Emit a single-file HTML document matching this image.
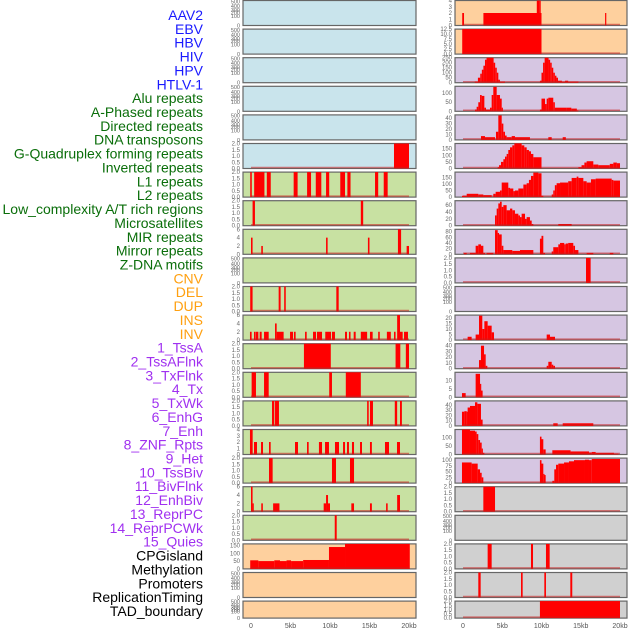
<!DOCTYPE html>
<html><head><meta charset="utf-8"><style>
html,body{margin:0;padding:0;background:#fff;}
#wrap{position:relative;width:630px;height:630px;overflow:hidden;}
svg{position:absolute;left:0;top:0;}
</style></head><body>
<div id="wrap">
<svg id="chart" width="630" height="630" viewBox="0 0 630 630" font-family="Liberation Sans, sans-serif"></svg>
</div>
<script>
// ---------- data ----------
const trackLabels = ["AAV2","EBV","HBV","HIV","HPV","HTLV-1","Alu repeats","A-Phased repeats","Directed repeats","DNA transposons","G-Quadruplex forming repeats","Inverted repeats","L1 repeats","L2 repeats","Low_complexity A/T rich regions","Microsatellites","MIR repeats","Mirror repeats","Z-DNA motifs","CNV","DEL","DUP","INS","INV","1_TssA","2_TssAFlnk","3_TxFlnk","4_Tx","5_TxWk","6_EnhG","7_Enh","8_ZNF_Rpts","9_Het","10_TssBiv","11_BivFlnk","12_EnhBiv","13_ReprPC","14_ReprPCWk","15_Quies","CPGisland","Methylation","Promoters","ReplicationTiming","TAD_boundary"];
const labelGroups = [0,0,0,0,0,0,1,1,1,1,1,1,1,1,1,1,1,1,1,2,2,2,2,2,3,3,3,3,3,3,3,3,3,3,3,3,3,3,3,4,4,4,4,4];
const xTickValues = [0,5,10,15,20];
const xTickLabels = ["0","5kb","10kb","15kb","20kb"];

const T2 = ["0.0","0.5","1.0","1.5","2.0"], T2v=[0,0.5,1,1.5,2];
const T6 = ["0","2","4","6"], T6v=[0,2,4,6];
const T4 = ["0","1","2","3","4"], T4v=[0,1,2,3,4];

// middle column bars: [startKb, endKb, value]
const m6Bars = [[18.1,20.0,2]];
const m7Bars = [[-0.1,0.1,2],[0.4,1.7,2],[2.0,2.5,2],[5.4,5.9,2],[7.1,7.6,2],[8.2,8.9,2],[9.5,9.9,2],[11.3,11.9,2],[12.2,12.6,2],[15.7,16.1,2],[16.8,17.3,2]];
const m8Bars = [[0.2,0.5,2],[13.9,14.2,2]];
const m9Bars = [[0.0,0.2,4],[1.3,1.5,2],[9.5,9.7,4],[14.8,15.0,4],[18.6,19.0,6],[19.7,20.0,2]];
const m11Bars = [[-0.1,0.2,2],[3.5,3.75,2],[4.2,4.4,2],[10.8,11.1,2]];
const m12Bars = [[-0.13,0.08,2],[0.38,0.59,2],[0.63,0.93,2],[1.1,1.35,2],[1.65,2.24,2],[3.04,3.25,4],[3.25,4.13,2],[4.94,5.32,2],[5.44,5.65,2],[6.84,7.05,2],[7.85,8.23,2],[8.35,8.99,2],[9.4,10.13,2],[10.25,10.63,2],[11.9,12.15,2],[12.4,12.6,2],[13.0,13.25,2],[13.9,14.7,2],[15.06,15.4,2],[16.1,16.3,2],[17.2,17.7,2],[18.1,18.3,2],[18.5,18.86,6],[18.86,19.2,2],[19.37,19.87,2]];
const m13Bars = [[6.7,10.1,2],[18.3,18.9,2],[19.6,20.0,2]];
const m14Bars = [[0.08,0.63,2],[1.65,2.24,2],[9.9,10.25,2],[12.0,13.9,2]];
const m15Bars = [[2.66,2.95,2],[3.04,3.54,2],[14.7,14.9,2],[15.06,15.44,2],[18.2,18.5,2],[18.86,19.1,2]];
const m16Bars = [[-0.13,0.21,4],[0.38,0.76,2],[1.27,1.52,2],[2.28,2.49,2],[5.57,5.95,2],[7.09,7.3,2],[8.6,8.99,2],[9.37,9.87,2],[10.63,11.14,2],[11.65,11.9,2],[12.15,12.4,2],[12.78,13.04,2],[13.8,14.05,2],[15.06,15.3,2],[16.96,17.47,2],[18.48,18.86,2]];
const m17Bars = [[2.28,2.74,2],[10.25,10.76,2],[12.53,13.04,2]];
const m18Bars = [[0.0,0.2,6],[0.2,0.35,2],[1.3,1.5,2],[2.8,3.6,2],[9.2,9.5,2],[9.5,9.75,4],[9.75,10.0,2],[12.7,13.04,2],[15.06,15.3,2],[17.1,17.3,2],[18.5,18.86,4]];
const m19Bars = [[10.6,10.85,2]];
const m20Bars = [[-0.1,0.93,55],[0.93,2.95,50],[2.95,3.67,55],[3.67,4.5,50],[4.5,5.07,55],[5.07,6.6,50],[6.6,9.87,57],[9.87,11.9,140],[11.9,20.1,160]];

// right column bars
const r1Bars = [[-0.1,0.13,2],[2.6,10.0,2],[9.4,9.7,4],[9.7,9.9,4],[18.1,18.25,2]];
const r2Bars = [[-0.1,10.0,12.5]];
const r3Bars = [[1.5,1.9,10],[1.9,2.2,50],[2.2,2.4,90],[2.4,2.6,130],[2.6,2.8,170],[2.8,3.0,230],[3.0,3.9,250],[3.9,4.1,200],[4.1,4.3,150],[4.3,4.5,100],[4.5,4.7,30],[4.7,5.35,10],[9.8,10.0,20],[10.0,10.2,100],[10.2,10.4,200],[10.4,10.9,250],[10.9,11.1,230],[11.1,11.3,200],[11.3,11.5,150],[11.5,11.7,100],[11.7,11.9,70],[11.9,12.1,50],[12.1,12.6,20],[12.6,13.0,10],[13.0,13.4,20],[13.4,14.7,10]];
const r4Bars = [[1.53,1.74,10],[1.74,1.95,25],[1.95,2.17,50],[2.17,2.38,90],[2.38,2.72,85],[2.72,2.93,20],[2.93,3.44,10],[3.44,3.65,20],[3.65,3.86,90],[3.86,4.29,135],[4.29,4.71,90],[4.71,4.93,70],[4.93,5.05,20],[9.8,10.0,10],[10.0,10.45,70],[10.45,10.66,40],[10.66,10.87,70],[10.87,11.5,75],[11.5,11.7,50],[11.7,13.2,20],[13.2,13.8,20],[13.8,14.5,15],[14.5,14.7,5]];
const r5Bars = [[2.29,2.8,7],[2.8,4.08,5],[4.2,4.5,15],[4.5,4.93,45],[4.93,5.14,30],[5.14,5.35,15],[5.35,5.56,8],[5.56,6.2,5],[6.2,6.62,7],[6.62,8.53,5],[10.87,11.3,5],[12.7,13.1,5]];
const r6Bars = [[4.42,4.59,10],[4.59,4.84,25],[4.84,5.14,50],[5.14,5.35,70],[5.35,5.56,90],[5.56,5.77,110],[5.77,5.99,140],[5.99,6.28,160],[6.28,6.54,175],[6.54,7.47,190],[7.47,7.81,175],[7.81,8.11,160],[8.11,8.4,140],[8.4,8.66,130],[8.66,8.96,110],[8.96,10.0,85],[14.7,15.1,10],[15.1,15.46,25],[15.46,15.75,45],[15.75,16.6,55],[16.6,17.24,30],[17.24,18.7,25],[18.7,19.15,35],[19.15,19.6,45],[19.6,20.0,40]];
const r7Bars = [[-0.13,0.47,10],[0.47,1.95,25],[1.95,2.59,20],[2.59,3.65,15],[3.86,4.16,25],[4.16,4.71,40],[4.71,4.93,50],[4.93,5.77,110],[5.77,5.99,70],[5.99,6.41,65],[6.41,6.62,45],[6.62,7.05,50],[7.05,7.69,65],[7.69,8.11,95],[8.11,8.4,105],[8.4,8.66,130],[8.66,8.96,160],[8.96,9.6,185],[9.6,10.0,180],[10.0,10.23,10],[11.3,11.5,20],[11.5,11.7,50],[11.7,11.93,90],[11.93,12.36,105],[12.36,13.4,110],[13.4,13.84,120],[13.84,14.48,145],[14.48,14.7,155],[14.7,15.33,145],[15.33,15.75,120],[15.75,16.3,110],[16.3,16.9,135],[16.9,18.94,140],[18.94,19.15,130],[19.15,20.0,125]];
const r8Bars = [[4.08,4.29,30],[4.29,4.5,50],[4.5,4.71,65],[4.71,4.93,70],[4.93,5.14,55],[5.14,5.56,60],[5.56,5.99,45],[5.99,6.28,50],[6.28,6.62,45],[6.62,7.05,35],[7.05,7.26,30],[7.26,7.47,25],[7.47,7.9,35],[7.9,8.11,20],[8.11,8.53,25],[8.53,8.75,15],[8.75,8.96,5],[12.14,13.84,5]];
const r9Bars = [[0.13,0.47,5],[0.89,1.61,5],[1.61,1.95,30],[1.95,2.29,35],[2.29,2.59,30],[2.59,2.8,5],[3.01,3.86,5],[4.08,4.42,85],[4.42,4.59,75],[4.59,4.93,70],[4.93,5.14,30],[5.14,6.28,15],[6.28,7.26,12],[7.26,8.96,15],[9.8,10.0,55],[10.0,10.23,65],[10.23,10.45,5],[11.3,11.5,10],[11.5,12.14,25],[12.14,12.36,35],[12.36,12.9,40],[12.9,13.08,35],[13.08,13.4,38],[13.4,14.05,40],[14.05,14.27,30],[14.27,14.7,15],[15.75,16.6,5],[18.7,19.15,5]];
const r10Bars = [[15.67,16.26,2]];
const r12Bars = [[0.59,1.1,3],[1.61,2.04,5],[2.04,2.46,22],[2.46,2.72,10],[2.72,3.14,17],[3.14,3.65,13],[3.65,3.95,7],[10.66,11.08,5],[11.08,11.72,3]];
const r13Bars = [[2.04,2.29,15],[2.29,2.68,40],[2.68,2.89,25],[2.89,3.1,5],[10.66,10.87,5],[10.87,11.3,12],[11.3,11.5,7],[11.5,11.72,5]];
const r14Bars = [[-0.13,0.34,2.5],[1.61,2.17,14],[2.17,2.29,8],[2.29,2.5,4]];
const r15Bars = [[-0.13,0.17,27],[0.17,0.47,28],[0.47,0.59,27],[0.59,0.89,35],[0.89,1.53,38],[1.53,1.83,45],[1.83,2.29,42],[2.29,2.5,12],[11.5,12.06,5],[12.7,16.6,5]];
const r16Bars = [[-0.13,0.89,147],[0.89,1.53,140],[1.53,1.74,135],[1.74,1.95,120],[1.95,2.17,85],[2.17,2.38,70],[2.38,2.5,35],[2.5,2.72,10],[9.8,10.0,105],[10.0,10.23,90],[10.23,10.53,30],[11.38,13.7,25],[13.7,16.05,18],[16.05,16.4,12],[16.4,16.9,15],[16.9,19.23,10],[19.23,19.8,5]];
const r17Bars = [[-0.13,1.1,90],[1.1,1.87,85],[1.87,2.17,60],[2.17,2.38,45],[2.38,2.59,25],[9.8,10.0,100],[10.0,10.23,85],[10.23,10.36,40],[10.36,10.53,35],[11.38,11.63,10],[11.63,11.85,60],[11.85,12.14,80],[12.14,12.87,85],[12.87,13.5,90],[13.5,14.14,95],[14.14,15.54,100],[15.54,16.05,102],[16.05,16.4,100],[16.4,20.0,105]];
const r18Bars = [[2.59,4.08,2]];
const r20Bars = [[3.14,3.65,2],[8.66,8.92,2],[10.57,11.04,2]];
const r21Bars = [[1.95,2.25,2],[7.39,7.6,2],[10.36,10.57,2],[13.67,13.92,2]];
const r22Bars = [[9.8,20.0,2]];

// ---------- layout ----------
const COLORS = {blue:"#c9e4ec",green:"#c8e1a2",orange:"#fed09e",purple:"#d6c6e2",grey:"#d0d0d0"};
const labelColors = ["#1a1aff","#0a6e0a","#ffa010","#a030f0","#000000"];
const cols = [{x0:243,x1:416,z:251,k:7.9},{x0:455,x1:627,z:463,k:7.85}];
function rowTop(i){return 0.5+i*28.6;}
function rowH(i){return i===21?17:25;}
const E = null; // empty panel marker
const midPanels = [
 ["blue",E],["blue",E],["blue",E],["blue",E],["blue",E],["blue",[2,T2,T2v,m6Bars]],
 ["green",[2,T2,T2v,m7Bars]],["green",[2,T2,T2v,m8Bars]],["green",[6,T6,T6v,m9Bars]],["green",E],
 ["green",[2,T2,T2v,m11Bars]],["green",[6,T6,T6v,m12Bars]],["green",[2,T2,T2v,m13Bars]],["green",[2,T2,T2v,m14Bars]],
 ["green",[2,T2,T2v,m15Bars]],["green",[4,T4,T4v,m16Bars]],["green",[2,T2,T2v,m17Bars]],["green",[6,T6,T6v,m18Bars]],
 ["green",[2,T2,T2v,m19Bars]],["orange",[160,["0","50","100","150"],[0,50,100,150],m20Bars]],["orange",E],["orange",E]];
const rightPanels = [
 ["orange",[4,T4,T4v,r1Bars]],["orange",[12.5,["0.0","2.5","5.0","7.5","10.0","12.5"],[0,2.5,5,7.5,10,12.5],r2Bars]],
 ["purple",[250,["0","50","100","150","200","250"],[0,50,100,150,200,250],r3Bars]],
 ["purple",[138,["0","50","100"],[0,50,100],r4Bars]],
 ["purple",[46,["0","10","20","30","40"],[0,10,20,30,40],r5Bars]],
 ["purple",[189,["0","50","100","150"],[0,50,100,150],r6Bars]],
 ["purple",[189,["0","50","100","150"],[0,50,100,150],r7Bars]],
 ["purple",[73,["0","20","40","60"],[0,20,40,60],r8Bars]],
 ["purple",[88,["0","20","40","60","80"],[0,20,40,60,80],r9Bars]],
 ["purple",[2,T2,T2v,r10Bars]],["purple",E],
 ["purple",[22.5,["0","5","10","15","20"],[0,5,10,15,20],r12Bars]],
 ["purple",[43.5,["0","10","20","30","40"],[0,10,20,30,40],r13Bars]],
 ["purple",[14.9,["0","5","10"],[0,5,10],r14Bars]],
 ["purple",[47.6,["0","10","20","30","40"],[0,10,20,30,40],r15Bars]],
 ["purple",[147,["0","50","100"],[0,50,100],r16Bars]],
 ["purple",[109,["0","25","50","75","100"],[0,25,50,75,100],r17Bars]],
 ["grey",[2,T2,T2v,r18Bars]],["grey",E],["grey",[2,T2,T2v,r20Bars]],["grey",[2,T2,T2v,r21Bars]],["grey",[2,T2,T2v,r22Bars]]];

const svg = document.getElementById('chart');
const NS = "http://www.w3.org/2000/svg";
function mk(tag, attrs, parent){const e=document.createElementNS(NS,tag);for(const k in attrs)e.setAttribute(k,attrs[k]);(parent||svg).appendChild(e);return e;}

// labels
trackLabels.forEach((t,i)=>{
  const e = mk('text',{x:203,y:15+i*13.86+5,'text-anchor':'end','font-size':'14',fill:labelColors[labelGroups[i]]});
  e.textContent=t;
  
  
});

const emptyLbl=["0","100","200","300","400","500"], emptyFr=[0,0.38,0.52,0.62,0.78,0.97];

function drawPanel(colIdx,rowIdx,p){
  const c=cols[colIdx], top=rowTop(rowIdx), h=rowH(rowIdx), bot=top+h;
  const g=mk('g',{});
  
  
  const bg=mk('rect',{x:c.x0,y:top,width:c.x1-c.x0,height:h,fill:COLORS[p[0]],stroke:'#666','stroke-width':1.2},g);
  
  
  const xs=kb=>c.z+kb*c.k;
  if(p[1]===E){
    emptyLbl.forEach((l,j)=>{
      const t=mk('text',{x:c.x0-3,y:bot-emptyFr[j]*h+2,'text-anchor':'end','font-size':'5.5',fill:'#666'},g);
      t.textContent=l;
      
      
    });
    return;
  }
  const [ymax,tl,tv,bars]=p[1];
  const ys=v=>bot-(v/ymax)*h;
  tl.forEach((l,j)=>{
    const t=mk('text',{x:c.x0-3,y:ys(tv[j])+2,'text-anchor':'end','font-size':'6',fill:'#666'},g);
    t.textContent=l;
    
    
  });
  bars.forEach(b=>{
    const x0=xs(b[0]), x1=xs(b[1]);
    const r=mk('rect',{x:x0,y:ys(b[2]),width:Math.max(1.2,x1-x0),height:bot-ys(b[2]),fill:'#ff0000'},g);
    
    
  });
  const bl=mk('line',{x1:xs(0),x2:xs(20),y1:bot-1,y2:bot-1,stroke:'rgba(200,30,30,0.55)','stroke-width':1.5},g);
  
  
}
midPanels.forEach((p,i)=>drawPanel(0,i,p));
rightPanels.forEach((p,i)=>drawPanel(1,i,p));

// x axes
cols.forEach(c=>{
  xTickValues.forEach((v,j)=>{
    const t=mk('text',{x:c.z+v*c.k,y:628,'text-anchor':'middle','font-size':'7',fill:'#555'});
    t.textContent=xTickLabels[j];
    
    
  });
});
</script>
</body></html>
